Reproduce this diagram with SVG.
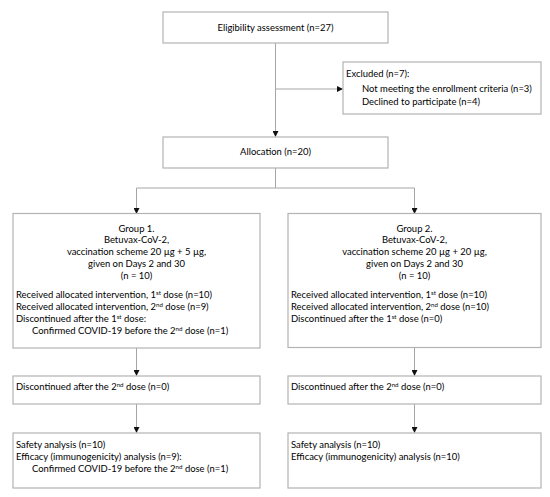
<svg xmlns="http://www.w3.org/2000/svg" width="550" height="497" viewBox="0 0 550 497">
<defs>
<style>
.box{fill:#fff;stroke:#b3b3b3;stroke-width:1.2}
.t{font-family:Lato,"Open Sans","Liberation Sans",sans-serif;font-size:9.45px;fill:#000}
.c{text-anchor:middle}
.sup{font-size:6.2px}
.ln{stroke:#a6a6a6;stroke-width:1;fill:none}
</style>
<marker id="ah" markerWidth="6" markerHeight="6" refX="5" refY="3" orient="auto" markerUnits="userSpaceOnUse">
<path d="M0,0 L6,3 L0,6 Z" fill="#111"/>
</marker>
</defs>
<rect width="550" height="497" fill="#fff"/>
<g id="connectors">
<line class="ln" x1="275.5" y1="43" x2="275.5" y2="136" marker-end="url(#ah)"/>
<line class="ln" x1="275.5" y1="89" x2="342" y2="89" marker-end="url(#ah)"/>
<line class="ln" x1="275.5" y1="168" x2="275.5" y2="188"/>
<line class="ln" x1="136.5" y1="188" x2="414.5" y2="188"/>
<line class="ln" x1="136.5" y1="188" x2="136.5" y2="213" marker-end="url(#ah)"/>
<line class="ln" x1="414.5" y1="188" x2="414.5" y2="213" marker-end="url(#ah)"/>
<line class="ln" x1="136.5" y1="348" x2="136.5" y2="375" marker-end="url(#ah)"/>
<line class="ln" x1="414.5" y1="348" x2="414.5" y2="375" marker-end="url(#ah)"/>
<line class="ln" x1="136.5" y1="404" x2="136.5" y2="432" marker-end="url(#ah)"/>
<line class="ln" x1="414.5" y1="404" x2="414.5" y2="432" marker-end="url(#ah)"/>
</g>
<g id="eligibility">
<rect class="box" x="163" y="12" width="225" height="31"/>
<text class="t c" x="275.5" y="31">Eligibility assessment (n=27)</text>
</g>
<g id="excluded">
<rect class="box" x="343" y="62" width="198" height="52"/>
<text class="t" x="346" y="77">Excluded (n=7):</text>
<text class="t" x="362" y="92">Not meeting the enrollment criteria (n=3)</text>
<text class="t" x="362" y="105">Declined to participate (n=4)</text>
</g>
<g id="allocation">
<rect class="box" x="163" y="137" width="225" height="31"/>
<text class="t c" x="275.5" y="155">Allocation (n=20)</text>
</g>
<g id="group1">
<rect class="box" x="13" y="213.5" width="247" height="134.5"/>
<text class="t c" x="136.5" y="232">Group 1.</text>
<text class="t c" x="136.5" y="243">Betuvax-CoV-2,</text>
<text class="t c" x="136.5" y="255">vaccination scheme 20 µg + 5 µg,</text>
<text class="t c" x="136.5" y="267">given on Days 2 and 30</text>
<text class="t c" x="136.5" y="279">(n = 10)</text>
<text class="t" x="16" y="298">Received allocated intervention, 1<tspan class="sup" dy="-3.5">st</tspan><tspan dy="3.5"> dose (n=10)</tspan></text>
<text class="t" x="16" y="310">Received allocated intervention, 2<tspan class="sup" dy="-3.5">nd</tspan><tspan dy="3.5"> dose (n=9)</tspan></text>
<text class="t" x="16" y="322">Discontinued after the 1<tspan class="sup" dy="-3.5">st</tspan><tspan dy="3.5"> dose:</tspan></text>
<text class="t" x="32" y="334">Confirmed COVID-19 before the 2<tspan class="sup" dy="-3.5">nd</tspan><tspan dy="3.5"> dose (n=1)</tspan></text>
</g>
<g id="group2">
<rect class="box" x="288" y="213.5" width="253" height="134"/>
<text class="t c" x="414.5" y="232">Group 2.</text>
<text class="t c" x="414.5" y="243">Betuvax-CoV-2,</text>
<text class="t c" x="414.5" y="255">vaccination scheme 20 µg + 20 µg,</text>
<text class="t c" x="414.5" y="267">given on Days 2 and 30</text>
<text class="t c" x="414.5" y="279">(n = 10)</text>
<text class="t" x="291" y="298">Received allocated intervention, 1<tspan class="sup" dy="-3.5">st</tspan><tspan dy="3.5"> dose (n=10)</tspan></text>
<text class="t" x="291" y="310">Received allocated intervention, 2<tspan class="sup" dy="-3.5">nd</tspan><tspan dy="3.5"> dose (n=10)</tspan></text>
<text class="t" x="291" y="322">Discontinued after the 1<tspan class="sup" dy="-3.5">st</tspan><tspan dy="3.5"> dose (n=0)</tspan></text>
</g>
<g id="disc1">
<rect class="box" x="13" y="376" width="247" height="28"/>
<text class="t" x="16" y="390">Discontinued after the 2<tspan class="sup" dy="-3.5">nd</tspan><tspan dy="3.5"> dose (n=0)</tspan></text>
</g>
<g id="disc2">
<rect class="box" x="288" y="376" width="253" height="28"/>
<text class="t" x="291" y="390">Discontinued after the 2<tspan class="sup" dy="-3.5">nd</tspan><tspan dy="3.5"> dose (n=0)</tspan></text>
</g>
<g id="analysis1">
<rect class="box" x="13" y="433" width="247" height="55"/>
<text class="t" x="16" y="448">Safety analysis (n=10)</text>
<text class="t" x="16" y="460">Efficacy (immunogenicity) analysis (n=9):</text>
<text class="t" x="32" y="472">Confirmed COVID-19 before the 2<tspan class="sup" dy="-3.5">nd</tspan><tspan dy="3.5"> dose (n=1)</tspan></text>
</g>
<g id="analysis2">
<rect class="box" x="288" y="433" width="253" height="55"/>
<text class="t" x="291" y="448">Safety analysis (n=10)</text>
<text class="t" x="291" y="460">Efficacy (immunogenicity) analysis (n=10)</text>
</g>
</svg>
